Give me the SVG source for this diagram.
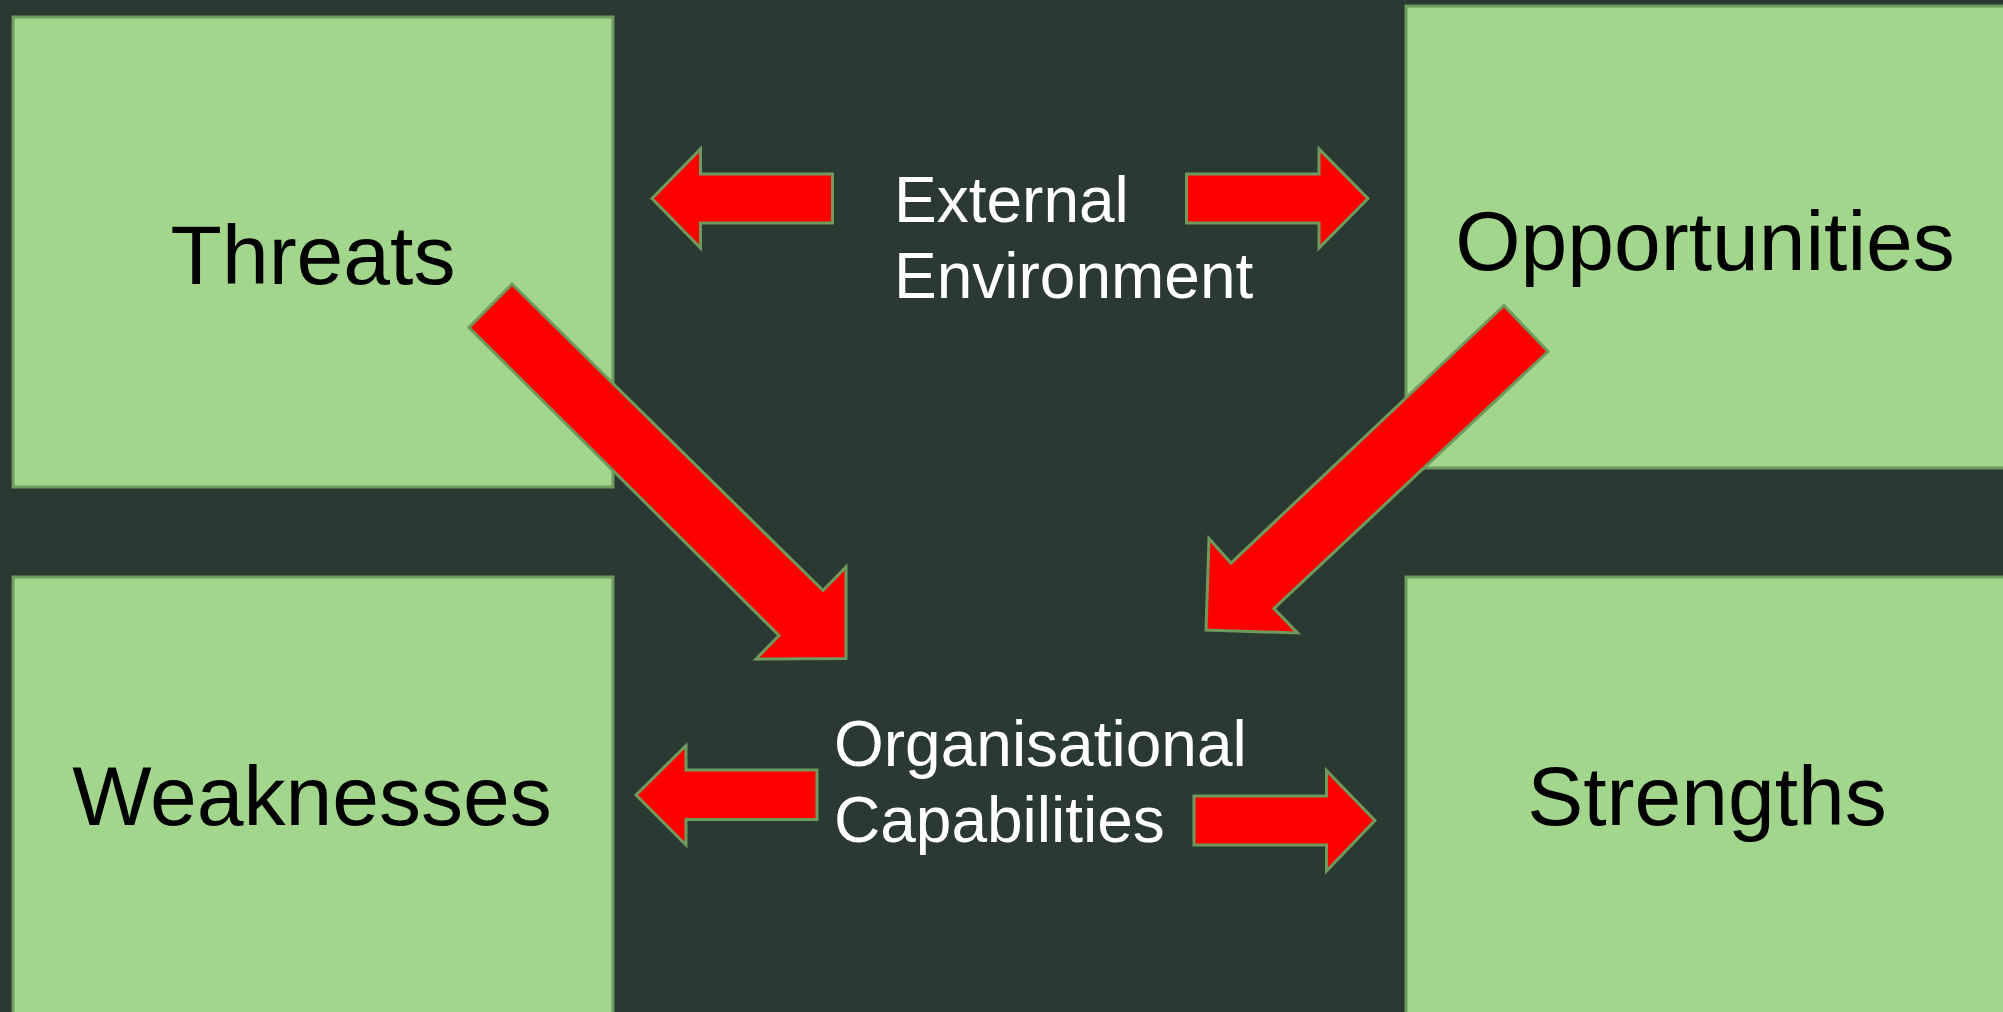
<svg xmlns="http://www.w3.org/2000/svg" width="2003" height="1012" viewBox="0 0 2003 1012">
<style>
.box{fill:#a2d68c;stroke:#6f9a5e;stroke-width:3}
.arr{fill:#ff0000;stroke:#6f9a5e;stroke-width:3;stroke-linejoin:miter}
.lbl{font-family:"Liberation Sans",Arial,sans-serif;font-size:84px;fill:#000000;text-anchor:middle}
.cap{font-family:"Liberation Sans",Arial,sans-serif;font-size:64px;fill:#ffffff}
</style>
<rect x="0" y="0" width="2003" height="1012" fill="#2a3931"/>
<g id="threats">
<rect class="box" x="13" y="17" width="600" height="470"/>
<text class="lbl" x="313" y="284">Threats</text>
</g>
<g id="opportunities">
<rect class="box" x="1406" y="6" width="620" height="462"/>
<text class="lbl" x="1705" y="270">Opportunities</text>
</g>
<g id="weaknesses">
<rect class="box" x="13" y="577" width="600" height="460"/>
<text class="lbl" x="312" y="825">Weaknesses</text>
</g>
<g id="strengths">
<rect class="box" x="1406" y="577" width="620" height="460"/>
<text class="lbl" x="1707" y="825">Strengths</text>
</g>
<g id="external-environment">
<text class="cap" x="894" y="222">External</text>
<text class="cap" x="894" y="298">Environment</text>
</g>
<g id="organisational-capabilities">
<text class="cap" x="834" y="766">Organisational</text>
<text class="cap" x="834" y="842">Capabilities</text>
</g>
<g id="connectors">
<polygon class="arr" points="652,198.5 700.5,149 700.5,174 832.5,174 832.5,223 700.5,223 700.5,248"/>
<polygon class="arr" points="1368,198.5 1319,149 1319,174 1186.5,174 1186.5,223 1319,223 1319,248"/>
<polygon class="arr" points="636,795 686,745.5 686,770 817,770 817,819.5 686,819.5 686,845"/>
<polygon class="arr" points="1375,820.5 1326.5,770.5 1326.5,796 1194,796 1194,845 1326.5,845 1326.5,871"/>
<polygon class="arr" points="512,284 823,590.5 846,567 846,658.5 756,659 779,635.5 469,327.5"/>
<polygon class="arr" points="1504,305.5 1548,351.5 1274,608.5 1297.5,633 1206,630 1209,538.5 1231,563"/>
</g>
</svg>
